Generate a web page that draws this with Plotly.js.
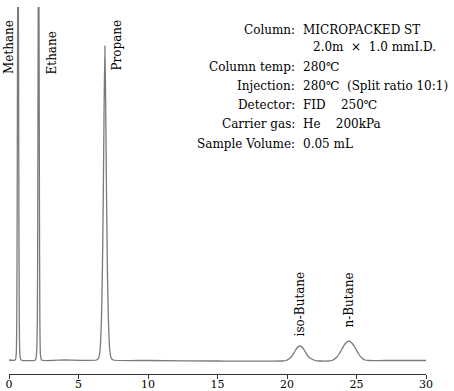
<!DOCTYPE html>
<html><head><meta charset="utf-8">
<script src="https://cdn.plot.ly/plotly-3.0.1.min.js"></script>
<style>html,body{margin:0;padding:0;background:#fff}#c{width:454px;height:391px}</style>
</head><body><div id="c"></div>
<script>
// Chromatogram trace (time in min, detector signal in arbitrary units)
const time = [0, 0.45, 0.52, 0.56, 0.59, 0.62, 0.65, 0.68, 0.71, 0.74, 0.78, 0.86,
  1.9, 1.98, 2.04, 2.07, 2.10, 2.13, 2.16, 2.19, 2.22, 2.26, 2.34,
  4.0, 6.3, 6.45, 6.55, 6.65, 6.72, 6.78, 6.84, 6.90, 6.96, 7.02, 7.08, 7.15, 7.25, 7.35, 7.5,
  10, 15, 19.7,
  19.93, 20.13, 20.33, 20.53, 20.73, 20.93, 21.13, 21.33, 21.53, 21.73, 21.93, 22.13, 22.4,
  23.0, 23.25, 23.55, 23.75, 23.95, 24.2, 24.45, 24.7, 24.95, 25.15, 25.35, 25.6, 25.9, 26.2,
  27, 30];
const signal = [0, 0, 6, 40, 160, 340, 420, 340, 160, 40, 6, 0,
  0, 6, 40, 160, 340, 420, 340, 160, 40, 6, 0,
  0, 0, 2, 10, 40, 90, 160, 250, 314, 250, 160, 90, 40, 10, 2, 0,
  -0.5, -1, -1,
  -0.5, 1, 3.5, 7.8, 12.3, 14, 12.3, 7.8, 3.5, 1.2, 0, -0.8, -1,
  -1, -0.5, 2.5, 6, 11, 16.5, 19, 16.5, 11, 6, 2.5, 0, -0.5, -0.6,
  -0.5, -0.5];

const peakNames = ["Methane", "Ethane", "Propane", "iso-Butane", "n-Butane"];
const labelTime = [0.0, 3.09, 7.7, 20.93, 24.46];
const labelSignal = [284, 284, 287, 22, 31];

const infoKeys = ["Column:", "", "Column temp:", "Injection:", "Detector:", "Carrier gas:", "Sample Volume:"];
const infoVals = ["MICROPACKED ST", "2.0m  ×  1.0 mmI.D.", "280℃", "280℃  (Split ratio 10:1)", "FID    250℃", "He    200kPa", "0.05 mL"];
const infoY = [0.937, 0.891, 0.836, 0.784, 0.732, 0.680, 0.628];

const tickVals = [0, 5, 10, 15, 20, 25, 30];

const font = "DejaVu Serif, Liberation Serif, serif";
const annotations = [];
peakNames.forEach((n, i) => annotations.push({
  x: labelTime[i], y: labelSignal[i], xref: "x", yref: "y", text: n, showarrow: false,
  textangle: -90, xanchor: "center", yanchor: "bottom", font: {family: font, size: 12, color: "#000"}
}));
infoKeys.forEach((k, i) => {
  if (k) annotations.push({x: 0.6906, y: infoY[i], xref: "paper", yref: "paper", text: k, showarrow: false,
    xanchor: "right", yanchor: "middle", font: {family: font, size: 12, color: "#000"}});
  annotations.push({x: i === 1 ? 0.725 : 0.70, y: infoY[i], xref: "paper", yref: "paper", text: infoVals[i], showarrow: false,
    xanchor: "left", yanchor: "middle", font: {family: font, size: 12, color: "#000"}});
});

Plotly.newPlot("c", [{
  x: time, y: signal, type: "scatter", mode: "lines",
  line: {color: "#7a7a7a", width: 1.3, shape: "spline", smoothing: 0.5}, hoverinfo: "skip"
}], {
  width: 454, height: 391,
  margin: {l: 9, r: 28, t: 7, b: 17},
  paper_bgcolor: "#fff", plot_bgcolor: "#fff",
  showlegend: false,
  xaxis: {range: [0, 30], tickvals: tickVals, ticktext: tickVals.map(String), ticks: "outside", ticklen: 4,
    tickcolor: "#333", showline: true, linecolor: "#333", linewidth: 1, showgrid: false, zeroline: false,
    ticklabelstandoff: -4,
    tickfont: {family: font, size: 11, color: "#000"}, fixedrange: true},
  yaxis: {range: [-14, 353], visible: false, showgrid: false, zeroline: false, fixedrange: true},
  annotations: annotations
}, {displayModeBar: false, staticPlot: true});
</script></body></html>
